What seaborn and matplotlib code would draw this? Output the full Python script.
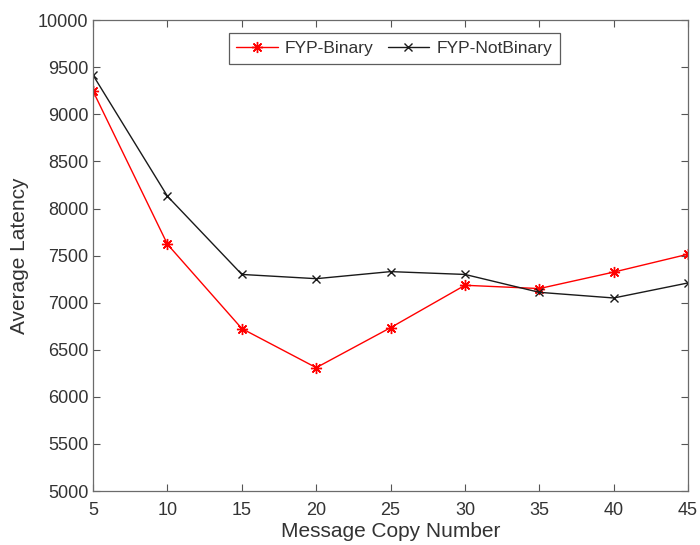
import numpy as np
import pandas as pd
import matplotlib
matplotlib.use("Agg")
import matplotlib.pyplot as plt
import seaborn as sns
from matplotlib.lines import Line2D

copies = [5, 10, 15, 20, 25, 30, 35, 40, 45]
binary = [9245, 7620, 6725, 6310, 6735, 7185, 7150, 7325, 7515]
not_binary = [9415, 8130, 7300, 7255, 7330, 7300, 7110, 7050, 7210]
series_names = ["FYP-Binary", "FYP-NotBinary"]

df = pd.DataFrame({
    "copies": copies * 2,
    "latency": binary + not_binary,
    "series": [series_names[0]] * len(copies) + [series_names[1]] * len(copies),
})

sns.set_theme(style="white")
plt.rcParams["font.family"] = ["Liberation Sans", "DejaVu Sans"]

colors = {series_names[0]: "#ff0000", series_names[1]: "#1a1a1a"}
markers = {series_names[0]: (8, 2, 0), series_names[1]: "x"}
msizes = {series_names[0]: 8, series_names[1]: 6}

fig = plt.figure(figsize=(7, 5.45), dpi=100)
ax = fig.add_axes([0.133, 0.099, 0.850, 0.864])

for name in series_names:
    sub = df[df["series"] == name]
    sns.lineplot(data=sub, x="copies", y="latency", color=colors[name],
                 marker=markers[name], markersize=msizes[name], markeredgewidth=1.0,
                 markeredgecolor=colors[name], linewidth=1.0, ax=ax)

ax.set_xlim(5, 45)
ax.set_ylim(5000, 10000)
ax.set_xticks(copies)
ax.set_yticks(np.arange(5000, 10001, 500))
ax.set_xlabel("Message Copy Number", fontsize=15, color="#333333", labelpad=2)
ax.set_ylabel("Average Latency", fontsize=15, color="#333333", labelpad=6)
ax.tick_params(direction="in", length=5, width=0.8, colors="#555555",
               labelcolor="#333333", labelsize=13, top=True, right=True,
               bottom=True, left=True)
ax.tick_params(axis="x", pad=8)
for s in ax.spines.values():
    s.set_visible(True)
    s.set_color("#6b6b6b")
    s.set_linewidth(0.9)

handles = [
    Line2D([], [], color=colors[n], marker=markers[n], markersize=msizes[n],
           markeredgecolor=colors[n], lw=1.0) for n in series_names
]
leg = ax.legend(handles, series_names, loc="upper center",
                bbox_to_anchor=(0.506, 0.972), ncol=2, fontsize=12.5,
                frameon=True, fancybox=False, edgecolor="#333333",
                handlelength=2.4, columnspacing=0.8, borderpad=0.45,
                handletextpad=0.4, borderaxespad=0)
leg.get_frame().set_linewidth(0.9)
for t in leg.get_texts():
    t.set_color("#333333")

fig.savefig("out.png", dpi=100)
